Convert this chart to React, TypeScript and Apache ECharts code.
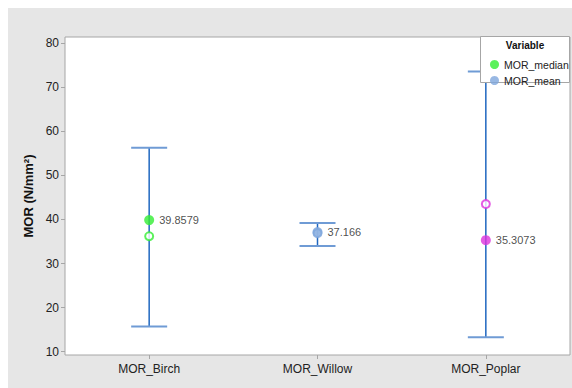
import React, { useEffect, useRef } from "react";
import * as echarts from "echarts";

// Categories on the x axis
const categories = ["MOR_Birch", "MOR_Willow", "MOR_Poplar"];
// Interval ends (N/mm²)
const intervalLow = [15.7, 34.0, 13.3];
const intervalHigh = [56.3, 39.2, 73.6];
// Medians (labelled, filled markers)
const medianValues = [39.8579, 37.166, 35.3073];
// Means (open markers)
const meanValues = [36.2, 36.9, 43.5];
// Point colours per category
const pointColors = ["#33ee33", "#7ea6dc", "#dd33dd"];
// Y tick values
const yTicks = [10, 20, 30, 40, 50, 60, 70, 80];

const FONT = "'Liberation Sans', Arial, sans-serif";

export default function App() {
  const ref = useRef<HTMLDivElement>(null);

  useEffect(() => {
    if (!ref.current) return;
    const chart = echarts.init(ref.current, undefined, { renderer: "svg" });

    const intervalData = categories.map((_, i) => [i, intervalLow[i], intervalHigh[i]]);

    chart.setOption({
      animation: false,
      backgroundColor: "#e6e6e6",
      textStyle: { fontFamily: FONT },
      grid: { left: 57, right: 2, top: 29, bottom: 33, show: true, backgroundColor: "#ffffff", borderColor: "#a6a6a6", borderWidth: 1 },
      xAxis: {
        type: "category",
        data: categories,
        boundaryGap: true,
        axisLine: { show: false },
        axisTick: { show: true, alignWithLabel: true, length: 4, lineStyle: { color: "#a6a6a6" } },
        axisLabel: { color: "#222", fontSize: 12, margin: 8, fontFamily: FONT },
        splitLine: { show: false },
      },
      yAxis: {
        type: "value",
        min: 9.25,
        max: 81.4,
        name: "MOR (N/mm²)",
        nameLocation: "middle",
        nameGap: 24,
        nameTextStyle: { color: "#111", fontSize: 13, fontWeight: "bold", fontFamily: FONT },
        axisLine: { show: false },
        axisTick: { show: true, length: 4, customValues: yTicks, lineStyle: { color: "#a6a6a6" } },
        axisLabel: { color: "#222", fontSize: 12, margin: 6, customValues: yTicks, fontFamily: FONT },
        splitLine: { show: false },
      },
      legend: {
        orient: "vertical",
        left: 477,
        top: 46,
        z: 20,
        itemWidth: 9,
        itemHeight: 9,
        itemGap: 5,
        icon: "circle",
        textStyle: { fontSize: 10.5, color: "#222", fontFamily: FONT },
        data: [
          { name: "MOR_median", itemStyle: { color: "#33ee33", borderWidth: 0 } },
          { name: "MOR_mean", itemStyle: { color: "#7ea6dc", borderWidth: 0 } },
        ],
      },
      graphic: [
        {
          type: "rect",
          shape: { x: 472.5, y: 28.5, width: 89, height: 46 },
          style: { fill: "#ffffff", stroke: "#a6a6a6", lineWidth: 1 },
          z: 10,
        },
        {
          type: "text",
          x: 517,
          y: 37,
          style: { text: "Variable", fill: "#111", font: `bold 10px ${FONT}`, textAlign: "center", textVerticalAlign: "middle" },
          z: 11,
        },
      ],
      series: [
        {
          type: "custom",
          name: "interval",
          z: 1,
          data: intervalData,
          renderItem: (params: any, api: any) => {
            const idx = api.value(0);
            const lo = api.coord([idx, api.value(1)]);
            const hi = api.coord([idx, api.value(2)]);
            const half = 18;
            return {
              type: "group",
              children: [
                { type: "line", shape: { x1: lo[0], y1: lo[1], x2: hi[0], y2: hi[1] }, style: { stroke: "#1f67c0", lineWidth: 1.5 } },
                { type: "line", shape: { x1: hi[0] - half, y1: hi[1], x2: hi[0] + half, y2: hi[1] }, style: { stroke: "#6f9bd5", lineWidth: 2 } },
                { type: "line", shape: { x1: lo[0] - half, y1: lo[1], x2: lo[0] + half, y2: lo[1] }, style: { stroke: "#6f9bd5", lineWidth: 2 } },
              ],
            };
          },
        },
        {
          type: "scatter",
          name: "MOR_mean",
          z: 3,
          symbol: "emptyCircle",
          symbolSize: 8,
          itemStyle: { color: "#7ea6dc", borderWidth: 1 },
          data: meanValues.map((v, i) => ({ value: [i, v], itemStyle: { color: pointColors[i], borderColor: pointColors[i] } })),
        },
        {
          type: "scatter",
          name: "MOR_median",
          z: 4,
          symbol: "circle",
          symbolSize: 10,
          itemStyle: { color: "#33ee33" },
          label: {
            show: true,
            position: "right",
            distance: 5,
            fontSize: 11,
            color: "#222",
            fontFamily: FONT,
            formatter: (p: any) => String(p.value[1]),
          },
          data: medianValues.map((v, i) => ({ value: [i, v], itemStyle: { color: pointColors[i] } })),
        },
      ],
    });

    return () => chart.dispose();
  }, []);

  return <div ref={ref} style={{ position: "absolute", left: 8, top: 8, width: 564, height: 380 }} />;
}
